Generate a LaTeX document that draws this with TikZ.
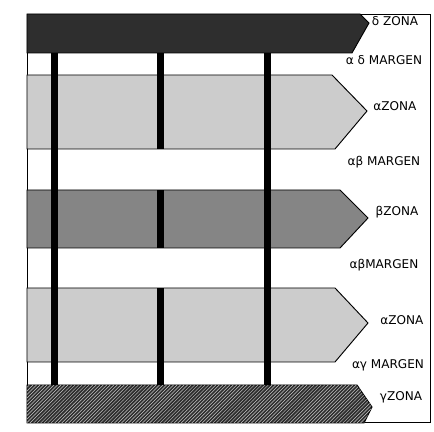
\documentclass[tikz,border=0pt]{standalone}
\usepackage{fontspec}
\setmainfont{DejaVu Sans}
\usetikzlibrary{patterns}

\definecolor{zonaoscura}{gray}{0.18}
\definecolor{zonabeta}{gray}{0.52}
\definecolor{zonaalfa}{gray}{0.80}

\tikzset{
  zona/.style={draw=black, line width=0.8pt},
  etiqueta/.style={font=\fontsize{10.3}{11}\selectfont, inner sep=0pt},
}

\begin{document}
\begin{tikzpicture}[x=0.03cm,y=-0.03cm]
        \useasboundingbox (0,0) rectangle (434,432);

        % Marco
        \draw[line width=0.6pt] (27,14) rectangle (430,422);

        % Zona delta
        \filldraw[zona, fill=zonaoscura] (27,14) -- (360,14) -- (369,23) -- (352,53) -- (27,53) -- cycle;
        % Zona alfa (arriba)
        \filldraw[zona, fill=zonaalfa] (27,75) -- (332,75) -- (367,111) -- (335,149) -- (27,149) -- cycle;
        % Zona beta
        \filldraw[zona, fill=zonabeta] (27,190) -- (340,190) -- (368,218) -- (340,248) -- (27,248) -- cycle;
        % Zona alfa (abajo)
        \filldraw[zona, fill=zonaalfa] (27,288) -- (335,288) -- (368,323) -- (335,362) -- (27,362) -- cycle;
        % Zona gamma
        \filldraw[zona, fill=zonaoscura, postaction={pattern=north east lines, pattern color=gray!45}]
            (27,385) -- (357,385) -- (372,407) -- (364,423) -- (27,423) -- cycle;

        % Postes
        \foreach \x in {51,264}
            \fill (\x,53) rectangle ++(7,332);
        \foreach \ya/\yb in {53/149, 190/248, 288/385}
            \fill (157,\ya) rectangle (164,\yb);

        % Etiquetas
        \node[etiqueta] (delta)   at (395,21)  {δ ZONA};
        \node[etiqueta] (adm)     at (384,60)  {α δ MARGEN};
        \node[etiqueta] (alfa1)   at (395,106) {αZONA};
        \node[etiqueta] (abm1)    at (384,162) {αβ MARGEN};
        \node[etiqueta] (beta)    at (397,212) {βZONA};
        \node[etiqueta] (abm2)    at (384,265) {αβMARGEN};
        \node[etiqueta] (alfa2)   at (402,320) {αZONA};
        \node[etiqueta] (agm)     at (388,365) {αγ MARGEN};
        \node[etiqueta] (gamma)   at (401,397) {γZONA};
\end{tikzpicture}
\end{document}
